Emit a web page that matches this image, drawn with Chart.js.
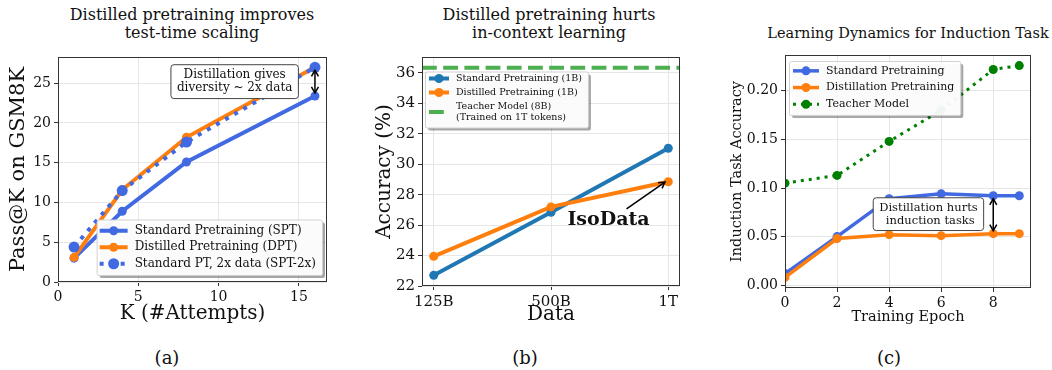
<!DOCTYPE html>
<html>
<head>
<meta charset="utf-8">
<script src="https://cdn.jsdelivr.net/npm/chart.js@4.4.1/dist/chart.umd.min.js"></script>
<style>
  body { margin: 0; width: 1052px; height: 370px; background: #fff; position: relative; overflow: hidden; font-family: "DejaVu Serif", serif; color: #111; }
  canvas { position: absolute; top: 0; }
  .title { position: absolute; width: 320px; text-align: center; font-size: 16px; line-height: 18px; white-space: nowrap; }
  .cap { position: absolute; top: 348px; width: 60px; text-align: center; font-size: 18px; line-height: 20px; }
</style>
</head>
<body>
<div class="title" style="left:32px;top:6px">Distilled pretraining improves<br>test-time scaling</div>
<div class="title" style="left:389px;top:6px">Distilled pretraining hurts<br>in-context learning</div>
<div class="title" style="left:748px;top:24px;font-size:14.5px">Learning Dynamics for Induction Task</div>
<canvas id="chartA" width="340" height="330" style="left:0px"></canvas>
<canvas id="chartB" width="330" height="330" style="left:360px"></canvas>
<canvas id="chartC" width="332" height="330" style="left:720px"></canvas>
<div class="cap" style="left:137px">(a)</div>
<div class="cap" style="left:495px">(b)</div>
<div class="cap" style="left:859px">(c)</div>
<script>
'use strict';

// (a) pass@k vs attempts
const kAttempts = [1, 4, 8, 16];
const sptPass = [3.0, 8.9, 15.1, 23.4];
const dptPass = [3.1, 11.6, 18.2, 27.0];
const spt2xPass = [4.4, 11.5, 17.6, 27.0];
const ticksAx = [0, 5, 10, 15];
const ticksAy = [0, 5, 10, 15, 20, 25];

// (b) in-context learning accuracy
const dataSizes = ['125B', '500B', '1T'];
const standardAcc = [22.7, 26.85, 31.05];
const distilledAcc = [23.95, 27.2, 28.85];
const teacherAcc = 36.35;
const ticksBy = [22, 24, 26, 28, 30, 32, 34, 36];

// (c) induction task accuracy
const epochs = [0, 2, 4, 6, 8, 9];
const standardInduction = [0.012, 0.050, 0.089, 0.094, 0.092, 0.092];
const distillInduction = [0.008, 0.048, 0.052, 0.051, 0.053, 0.053];
const teacherInduction = [0.105, 0.113, 0.148, 0.180, 0.222, 0.226];
const ticksCx = [0, 2, 4, 6, 8];
const ticksCy = [0, 0.05, 0.10, 0.15, 0.20];

const SERIF = '"DejaVu Serif", serif';
Chart.defaults.font.family = SERIF;
Chart.defaults.color = '#111';

function pairs(xs, ys) {
  return xs.map((x, i) => ({ x: x, y: ys[i] }));
}

function series(label, xs, ys, color, extra) {
  return Object.assign({
    label: label,
    data: pairs(xs, ys),
    borderColor: color,
    backgroundColor: color,
    pointBackgroundColor: color,
    borderWidth: 4,
    pointRadius: 4.5,
    pointHoverRadius: 4.5,
    pointBorderWidth: 0,
    tension: 0,
  }, extra);
}

function arrowHead(ctx, x1, y1, x2, y2) {
  const ang = Math.atan2(y2 - y1, x2 - x1);
  const len = 6, half = 3.5;
  ctx.beginPath();
  ctx.moveTo(x2 - len * Math.cos(ang) + half * Math.sin(ang), y2 - len * Math.sin(ang) - half * Math.cos(ang));
  ctx.lineTo(x2, y2);
  ctx.lineTo(x2 - len * Math.cos(ang) - half * Math.sin(ang), y2 - len * Math.sin(ang) + half * Math.cos(ang));
  ctx.stroke();
}

// frame, text boxes and arrows drawn in data coordinates
const extras = {
  id: 'extras',
  afterDatasetsDraw(chart, args, opts) {
    const ctx = chart.ctx;
    const a = chart.chartArea;
    const xs = chart.scales.x;
    const ys = chart.scales.y;
    ctx.save();
    ctx.strokeStyle = '#333';
    ctx.lineWidth = 1;
    ctx.strokeRect(a.left + 0.5, a.top + 0.5, a.right - a.left - 1, a.bottom - a.top - 1);

    (opts.arrows || []).forEach(ar => {
      let x1 = xs.getPixelForValue(ar.x1), y1 = ys.getPixelForValue(ar.y1);
      let x2 = xs.getPixelForValue(ar.x2), y2 = ys.getPixelForValue(ar.y2);
      const d = Math.hypot(x2 - x1, y2 - y1);
      const s = ar.shrink || 0;
      const ux = (x2 - x1) / d, uy = (y2 - y1) / d;
      x1 += ux * s; y1 += uy * s; x2 -= ux * s; y2 -= uy * s;
      ctx.strokeStyle = '#000';
      ctx.lineWidth = 1.5;
      ctx.beginPath();
      ctx.moveTo(x1, y1);
      ctx.lineTo(x2, y2);
      ctx.stroke();
      arrowHead(ctx, x1, y1, x2, y2);
      if (ar.both) arrowHead(ctx, x2, y2, x1, y1);
    });

    (opts.boxes || []).forEach(b => {
      const cx = xs.getPixelForValue(b.x), cy = ys.getPixelForValue(b.y);
      ctx.font = (b.bold ? 'bold ' : '') + b.size + 'px ' + SERIF;
      const tw = Math.max(...b.lines.map(t => ctx.measureText(t).width));
      const lh = b.size * 1.12;
      if (b.frame) {
        const w = tw + 12, h = b.lines.length * lh + 7;
        ctx.beginPath();
        ctx.roundRect(cx - w / 2, cy - h / 2, w, h, 3);
        ctx.fillStyle = '#fff';
        ctx.fill();
        ctx.strokeStyle = '#444';
        ctx.lineWidth = 1;
        ctx.stroke();
      }
      ctx.fillStyle = '#111';
      ctx.textAlign = 'center';
      ctx.textBaseline = 'middle';
      b.lines.forEach((t, i) => {
        ctx.fillText(t, cx, cy + (i - (b.lines.length - 1) / 2) * lh);
      });
    });
    ctx.restore();
  },
};

// legend box placed inside the plot, drawn over everything
const boxLegend = {
  id: 'boxLegend',
  afterDraw(chart, args, o) {
    const ctx = chart.ctx;
    const a = chart.chartArea;
    const items = chart.data.datasets.filter(d => d.label);
    ctx.save();
    ctx.font = o.size + 'px ' + SERIF;
    const rows = items.map(d => d.label.split('\n'));
    const textW = Math.max(...rows.flat().map(t => ctx.measureText(t).width));
    const w = o.padL + o.sample + o.textGap + textW + o.padR;
    const h = o.padT + o.padB + rows.reduce((s, r) => s + r.length * o.lineH + o.gap, 0);
    let left, top;
    if (o.anchor === 'br') {
      left = a.right - o.dx - w;
      top = a.bottom - o.dy - h;
    } else {
      left = a.left + o.dx;
      top = a.top + o.dy;
    }
    ctx.fillStyle = 'rgba(0,0,0,0.35)';
    ctx.beginPath();
    ctx.roundRect(left + 3, top + 3, w, h, 2);
    ctx.fill();
    ctx.fillStyle = 'rgba(255,255,255,0.95)';
    ctx.strokeStyle = '#d0d0d0';
    ctx.lineWidth = 1;
    ctx.beginPath();
    ctx.roundRect(left + 0.5, top + 0.5, w, h, 2);
    ctx.fill();
    ctx.stroke();

    let y = top + o.padT;
    items.forEach((d, i) => {
      const rh = rows[i].length * o.lineH + o.gap;
      const cy = y + rh / 2;
      const sx = left + o.padL;
      ctx.save();
      ctx.strokeStyle = d.borderColor;
      ctx.lineWidth = d.borderWidth;
      ctx.setLineDash(d.borderDash || []);
      ctx.beginPath();
      ctx.moveTo(sx, cy);
      ctx.lineTo(sx + o.sample, cy);
      ctx.stroke();
      ctx.restore();
      if (d.pointRadius > 0) {
        ctx.fillStyle = d.borderColor;
        ctx.beginPath();
        ctx.arc(sx + o.sample / 2, cy, d.pointRadius, 0, Math.PI * 2);
        ctx.fill();
      }
      ctx.fillStyle = '#111';
      ctx.textAlign = 'left';
      ctx.textBaseline = 'middle';
      rows[i].forEach((t, j) => {
        ctx.fillText(t, sx + o.sample + o.textGap, cy + (j - (rows[i].length - 1) / 2) * o.lineH);
      });
      y += rh;
    });
    ctx.restore();
  },
};

function axis(min, max, ticks, width, height, title, titleSize, titlePad, fmt, tickSize) {
  return {
    type: 'linear',
    min: min,
    max: max,
    afterBuildTicks: (scale) => { scale.ticks = ticks.map(v => ({ value: v })); },
    afterFit: (scale) => {
      if (width) scale.width = width;
      if (height) scale.height = height;
    },
    grid: { color: '#e6e6e6', lineWidth: 1, tickColor: '#333', tickLength: 4, tickWidth: 1 },
    border: { display: false },
    ticks: { font: { size: tickSize || 14 }, padding: 3, color: '#111', callback: fmt || ((v) => v) },
    title: { display: true, text: title, font: { size: titleSize }, padding: titlePad, color: '#111' },
  };
}

function baseOptions(pad, xAxis, yAxis, legendOpts, notes) {
  return {
    responsive: false,
    animation: false,
    devicePixelRatio: 1,
    layout: { padding: pad },
    scales: { x: xAxis, y: yAxis },
    plugins: {
      legend: { display: false },
      tooltip: { enabled: false },
      boxLegend: legendOpts,
      extras: notes,
    },
  };
}

// chart (a)
new Chart(document.getElementById('chartA'), {
  type: 'line',
  data: {
    datasets: [
      series('Standard Pretraining (SPT)', kAttempts, sptPass, '#4169e1', { order: 2 }),
      series('Distilled Pretraining (DPT)', kAttempts, dptPass, '#ff7f0e', { order: 1 }),
      series('Standard PT, 2x data (SPT-2x)', kAttempts, spt2xPass, '#4169e1',
        { order: 0, borderDash: [4, 6.5], pointRadius: 5.5, pointHoverRadius: 5.5, borderCapStyle: 'butt' }),
    ],
  },
  options: baseOptions(
    { top: 57, right: 13, left: 0, bottom: 0 },
    axis(0, 16.75, ticksAx, 0, 48, 'K (#Attempts)', 20, { bottom: 4 }),
    axis(0, 28.3, ticksAy, 58, 0, 'Pass@K on GSM8K', 21, { top: 6 }),
    { anchor: 'br', dx: 5, dy: 7, size: 12, lineH: 12.5, gap: 4, padT: 3, padB: 3, padL: 3, sample: 28, textGap: 7, padR: 6 },
    {
      boxes: [{ x: 11.0, y: 25.2, lines: ['Distillation gives', 'diversity ~ 2x data'], size: 12, frame: true }],
      arrows: [{ x1: 16, y1: 27.0, x2: 16, y2: 23.4, both: true, shrink: 3 }],
    }
  ),
  plugins: [extras, boxLegend],
});

// chart (b)
new Chart(document.getElementById('chartB'), {
  type: 'line',
  data: {
    datasets: [
      series('Standard Pretraining (1B)', [0, 1, 2], standardAcc, '#1f77b4', { order: 2 }),
      series('Distilled Pretraining (1B)', [0, 1, 2], distilledAcc, '#ff7f0e', { order: 1 }),
      series('Teacher Model (8B)\n(Trained on 1T tokens)', [-0.1, 2.1], [teacherAcc, teacherAcc], '#4caf50',
        { order: 0, borderDash: [14.8, 6.4], pointRadius: 0, pointHoverRadius: 0, borderCapStyle: 'butt' }),
    ],
  },
  options: baseOptions(
    { top: 57, right: 10, left: 0, bottom: 0 },
    axis(-0.1, 2.1, [0, 1, 2], 0, 44, 'Data', 20, { bottom: 3 }, (v) => dataSizes[v], 15),
    axis(22, 37.05, ticksBy, 62, 0, 'Accuracy (%)', 20, { top: 13 }, null, 15),
    { anchor: 'tl', dx: 3, dy: 14.5, size: 9.5, lineH: 11, gap: 3, padT: 0, padB: 3, padL: 4, sample: 20, textGap: 7, padR: 6 },
    {
      boxes: [{ x: 1.49, y: 26.35, lines: ['IsoData'], size: 19, bold: true }],
      arrows: [{ x1: 1.644, y1: 27.07, x2: 1.972, y2: 28.83 }],
    }
  ),
  plugins: [extras, boxLegend],
});

// chart (c)
new Chart(document.getElementById('chartC'), {
  type: 'line',
  data: {
    datasets: [
      series('Standard Pretraining', epochs, standardInduction, '#4169e1', { order: 2, borderWidth: 3.5 }),
      series('Distillation Pretraining', epochs, distillInduction, '#ff7f0e', { order: 1, borderWidth: 3.5 }),
      series('Teacher Model', epochs, teacherInduction, '#008000',
        { order: 0, borderWidth: 3, borderDash: [3, 5], borderCapStyle: 'butt' }),
    ],
  },
  options: baseOptions(
    { top: 55, right: 21, left: 0, bottom: 0 },
    axis(0, 9.45, ticksCx, 0, 42, 'Training Epoch', 14.5, { bottom: 4 }),
    axis(-0.0029, 0.2369, ticksCy, 65, 0, 'Induction Task Accuracy', 14.5, { top: 9 }, (v) => v.toFixed(2)),
    { anchor: 'tl', dx: 4, dy: 6, size: 11, lineH: 12.5, gap: 4.2, padT: 1.5, padB: 2.5, padL: 4, sample: 26, textGap: 7, padR: 6 },
    {
      boxes: [{ x: 5.51, y: 0.0731, lines: ['Distillation hurts', ' induction tasks'], size: 11.5, frame: true }],
      arrows: [{ x1: 8, y1: 0.092, x2: 8, y2: 0.053, both: true, shrink: 3 }],
    }
  ),
  plugins: [extras, boxLegend],
});
</script>
</body>
</html>
